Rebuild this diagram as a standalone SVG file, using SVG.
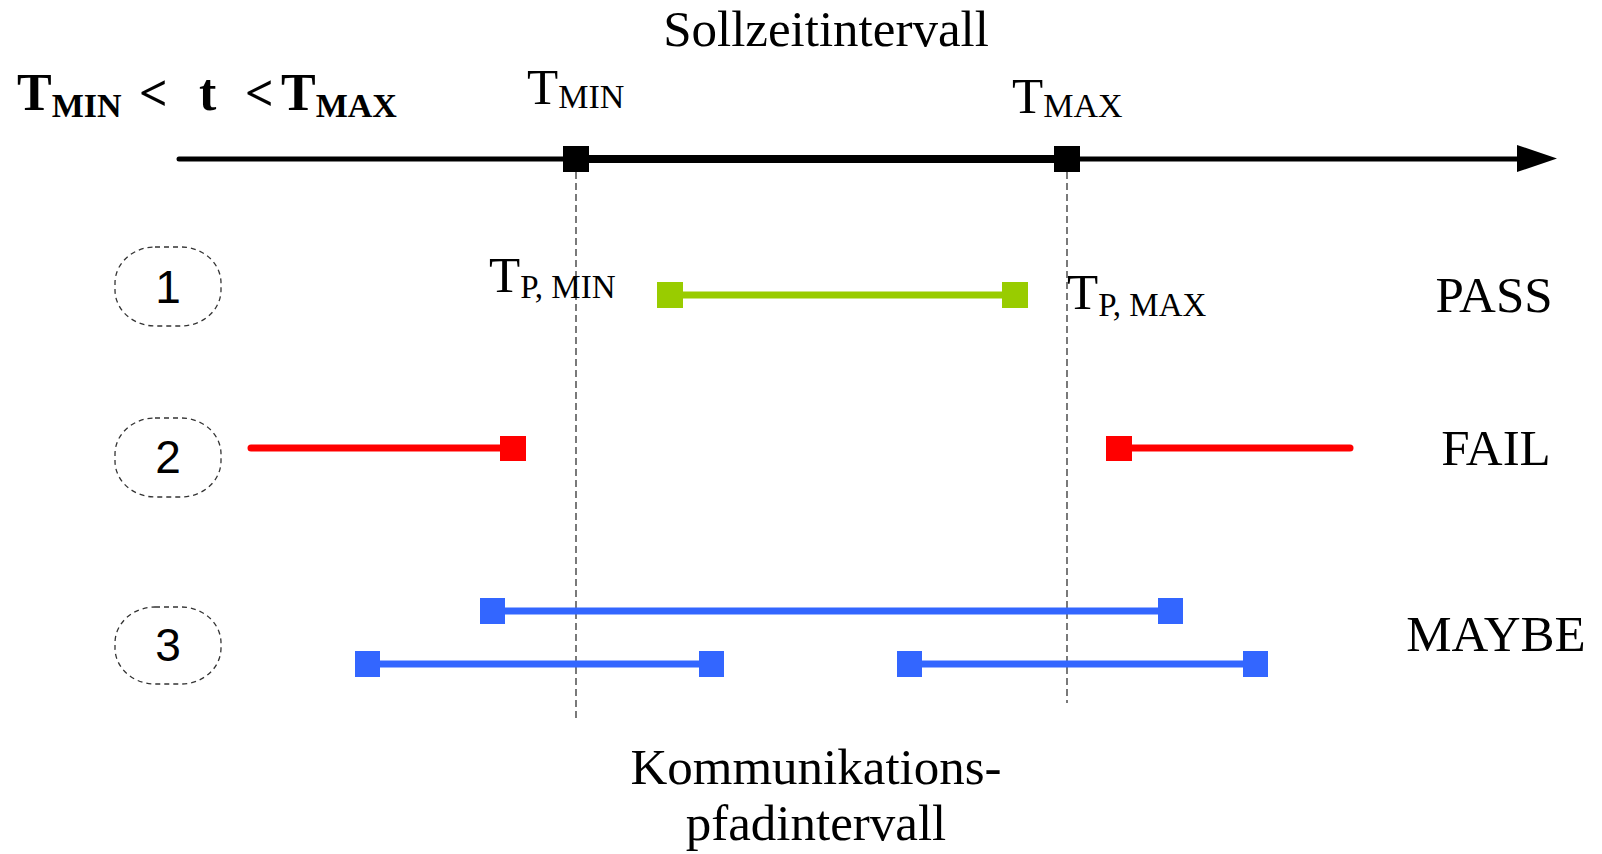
<svg xmlns="http://www.w3.org/2000/svg" width="1602" height="854" viewBox="0 0 1602 854">
  <style>
    .serif { font-family: "Liberation Serif", "Times New Roman", serif; fill: #000; }
    .big { font-size: 51px; }
    .bold { font-weight: bold; }
    .num { font-family: "Liberation Sans", Arial, sans-serif; font-size: 46px; fill: #000; text-anchor: middle; }
    .badge { fill: none; stroke: #333; stroke-width: 1.3; stroke-dasharray: 5 4; }
    .guide { stroke: #333; stroke-width: 1.3; stroke-dasharray: 7 4; fill: none; }
    .green { stroke: #99cc00; fill: #99cc00; }
    .red { stroke: #ff0000; fill: #ff0000; }
    .blue { stroke: #3366ff; fill: #3366ff; }
    .bar { stroke-width: 7; stroke-linecap: round; }
    .cap { stroke: none; }
  </style>

  <!-- condition formula -->
  <g id="formula" class="serif bold">
    <text x="17" y="110" font-size="52">T<tspan font-size="34" dy="7">MIN</tspan></text>
    <text x="139" y="110" font-size="50">&lt;</text>
    <text x="199" y="110" font-size="52">t</text>
    <text x="245" y="110" font-size="50">&lt;</text>
    <text x="281" y="110" font-size="52">T<tspan font-size="34" dy="7">MAX</tspan></text>
  </g>

  <!-- titles -->
  <text id="title-soll" class="serif big" x="826" y="46" text-anchor="middle">Sollzeitintervall</text>
  <g id="title-komm" class="serif big" text-anchor="middle">
    <text x="816" y="784">Kommunikations-</text>
    <text x="816" y="840">pfadintervall</text>
  </g>

  <!-- time axis -->
  <g id="axis">
    <line x1="179" y1="159" x2="563" y2="159" stroke="#000" stroke-width="5" stroke-linecap="round"/>
    <line x1="589" y1="159" x2="1054" y2="159" stroke="#000" stroke-width="8"/>
    <line x1="1080" y1="159" x2="1520" y2="159" stroke="#000" stroke-width="5"/>
    <polygon points="1517,145 1557,158.5 1517,172" fill="#000"/>
    <rect x="563" y="146" width="26" height="26" fill="#000"/>
    <rect x="1054" y="146" width="26" height="26" fill="#000"/>
  </g>
  <g id="label-tmin" class="serif">
    <text x="527" y="104" font-size="51">T<tspan font-size="34" dy="4">MIN</tspan></text>
  </g>
  <g id="label-tmax" class="serif">
    <text x="1012" y="113" font-size="51">T<tspan font-size="34" dy="4">MAX</tspan></text>
  </g>

  <!-- interval bounds projected down -->
  <g id="guides">
    <line class="guide" x1="576" y1="172" x2="576" y2="722"/>
    <line class="guide" x1="1067" y1="172" x2="1067" y2="703"/>
  </g>

  <!-- case badges -->
  <g id="case-1">
    <rect class="badge" x="115" y="247" width="106" height="79" rx="40" ry="36"/>
    <text class="num" x="168" y="303">1</text>
  </g>
  <g id="case-2">
    <rect class="badge" x="115" y="418" width="106" height="79" rx="40" ry="36"/>
    <text class="num" x="168" y="473">2</text>
  </g>
  <g id="case-3">
    <rect class="badge" x="115" y="607" width="106" height="77" rx="40" ry="36"/>
    <text class="num" x="168" y="661">3</text>
  </g>

  <!-- case 1: path interval inside -->
  <g id="interval-pass">
    <line class="green bar" x1="670" y1="295" x2="1014" y2="295" stroke-linecap="butt"/>
    <rect class="green cap" x="657" y="282" width="26" height="26"/>
    <rect class="green cap" x="1002" y="282" width="26" height="26"/>
  </g>
  <g id="label-tpmin" class="serif">
    <text x="489" y="292" font-size="51">T<tspan font-size="33" dy="6">P, MIN</tspan></text>
  </g>
  <g id="label-tpmax" class="serif">
    <text x="1067" y="309" font-size="51">T<tspan font-size="33" dy="7">P, MAX</tspan></text>
  </g>
  <text id="verdict-pass" class="serif big" x="1494" y="312" text-anchor="middle">PASS</text>

  <!-- case 2: path intervals outside -->
  <g id="interval-fail-left">
    <line class="red bar" x1="251" y1="448" x2="510" y2="448"/>
    <rect class="red cap" x="500" y="436" width="26" height="25"/>
  </g>
  <g id="interval-fail-right">
    <line class="red bar" x1="1120" y1="448" x2="1350" y2="448"/>
    <rect class="red cap" x="1106" y="436" width="26" height="25"/>
  </g>
  <text id="verdict-fail" class="serif big" x="1496" y="465" text-anchor="middle">FAIL</text>

  <!-- case 3: path intervals overlapping a bound -->
  <g id="interval-maybe-wide">
    <line class="blue bar" x1="492" y1="611" x2="1170" y2="611" stroke-linecap="butt"/>
    <rect class="blue cap" x="480" y="598" width="25" height="26"/>
    <rect class="blue cap" x="1158" y="598" width="25" height="26"/>
  </g>
  <g id="interval-maybe-low">
    <line class="blue bar" x1="367" y1="664" x2="712" y2="664" stroke-linecap="butt"/>
    <rect class="blue cap" x="355" y="651" width="25" height="26"/>
    <rect class="blue cap" x="699" y="651" width="25" height="26"/>
  </g>
  <g id="interval-maybe-high">
    <line class="blue bar" x1="910" y1="664" x2="1255" y2="664" stroke-linecap="butt"/>
    <rect class="blue cap" x="897" y="651" width="25" height="26"/>
    <rect class="blue cap" x="1243" y="651" width="25" height="26"/>
  </g>
  <text id="verdict-maybe" class="serif big" x="1496" y="651" text-anchor="middle">MAYBE</text>
</svg>
